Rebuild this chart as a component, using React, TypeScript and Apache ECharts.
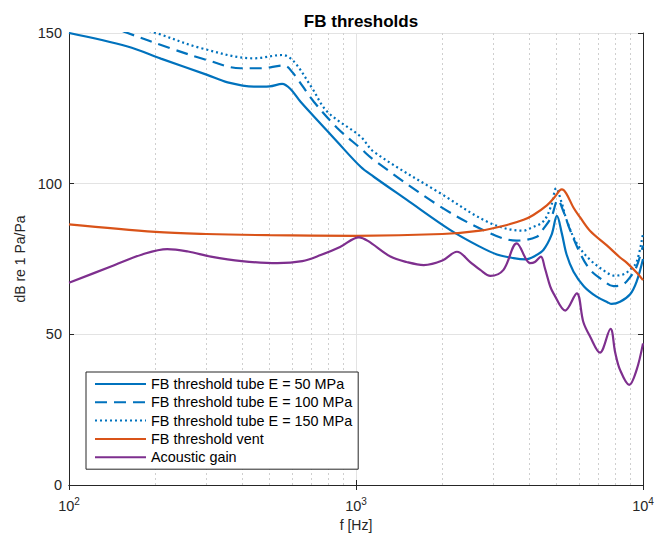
import React, { useEffect, useRef } from "react";
import * as echarts from "echarts";

// ---- data (frequency in Hz, level in dB re 1 Pa/Pa) ----
const fTube50 = [100, 160, 209, 303, 357, 441, 500, 553, 590, 641, 760, 860, 1038, 1153, 1500, 2133, 2700, 3098, 3539, 3900, 4200, 4496, 4800, 5012, 5214, 5417, 5728, 6230, 6870, 7540, 7780, 8318, 9020, 9500, 10000];
const vTube50 = [150, 145.5, 141.5, 136.1, 133.6, 132.2, 132.3, 133.1, 131.5, 127.2, 119.5, 113.9, 105.6, 102.3, 94.7, 84.6, 79.1, 76.5, 75.3, 74.9, 76, 78, 83, 89.3, 83.5, 76.5, 70.8, 65.9, 62.6, 60.6, 60.1, 60.8, 63.3, 67.5, 75];

const fTube100 = [100, 160, 226, 303, 396, 465, 561, 600, 713, 860, 1038, 1153, 1968, 2938, 3631, 4266, 4496, 4800, 5050, 5284, 5572, 6040, 6546, 7233, 7889, 8500, 9020, 9500, 10000];
const vTube100 = [157, 150, 144.9, 141, 138.3, 138.3, 139.2, 137, 127.2, 118.5, 111.7, 107.9, 92.4, 83.5, 81.1, 82.4, 85, 89, 94.6, 90.7, 84.6, 76.9, 71.4, 68, 66, 66.5, 69, 72.5, 79.5];

const fTube150 = [100, 150, 201, 288, 441, 553, 608, 700, 794, 1038, 1153, 1968, 2938, 3837, 4000, 4496, 4800, 4977, 5214, 5417, 5876, 6546, 7482, 7889, 8500, 9020, 9500, 10000];
const vTube150 = [160, 153.5, 150, 145, 141.6, 142.7, 140.5, 132, 123.9, 115.6, 110.6, 96.8, 86.9, 84.4, 85, 87.5, 93, 98.5, 93.5, 88, 80.2, 74.7, 70.5, 69.5, 69.8, 71.5, 74, 83.5];

const fVent = [100, 200, 300, 500, 1000, 2000, 2710, 3357, 3837, 4150, 4624, 4900, 5214, 5400, 5728, 6040, 6546, 7482, 8318, 8770, 9500, 10000];
const vVent = [86.5, 84, 83.3, 82.9, 82.7, 83.3, 84.4, 86.3, 88, 89.6, 92.8, 95.3, 98.1, 96.8, 92, 88.8, 84.3, 79.5, 75.5, 73.8, 70.5, 68];

const fGain = [100, 140, 180, 220, 260, 312, 400, 532, 650, 753, 880, 1024, 1100, 1318, 1500, 1722, 2000, 2248, 2500, 2710, 2938, 3265, 3631, 4046, 4200, 4408, 4550, 4753, 4876, 5357, 5876, 6200, 6546, 7080, 7706, 8000, 8318, 8953, 9500, 10000];
const vGain = [67.1, 72.5, 76.5, 78.3, 77.5, 75.8, 74.3, 73.6, 74.3, 76.3, 79, 82.2, 81, 75.8, 74, 73, 74.5, 77.4, 74, 71.4, 69.4, 71.4, 80.2, 73.6, 74, 75.8, 72, 65.8, 63.6, 57.9, 63.6, 54, 49.2, 43.9, 51.8, 44, 38.2, 33.2, 38.2, 47];

const minorGridFreqs = [200, 300, 400, 500, 600, 700, 800, 900, 2000, 3000, 4000, 5000, 6000, 7000, 8000, 9000];
const yMin = 0;
const yMax = 150;
const yInterval = 50;

const seriesNames = [
  "FB threshold tube E = 50 MPa",
  "FB threshold tube E = 100 MPa",
  "FB threshold tube E = 150 MPa",
  "FB threshold vent",
  "Acoustic gain",
];

const BLUE = "#0072BD";
const RED = "#D95319";
const PURPLE = "#7E2F8E";
const TXT = "#262626";

const zip = (f: number[], v: number[]) => f.map((x, i) => [x, v[i]]);

export default function App() {
  const ref = useRef<HTMLDivElement>(null);
  useEffect(() => {
    if (!ref.current) return;
    const chart = echarts.init(ref.current, undefined, { renderer: "svg" });
    const font = "'Liberation Sans', Arial, Helvetica, sans-serif";
    const lw = 2.2;
    const mk = (name: string, data: number[][], color: string, type: any, extra: any = {}) => ({
      name,
      type: "line",
      data,
      xAxisIndex: 0,
      yAxisIndex: 0,
      symbol: "none",
      showSymbol: false,
      smooth: 0.35,
      clip: true,
      lineStyle: { color, width: lw, type, cap: "butt" },
      itemStyle: { color },
      emphasis: { disabled: true },
      ...extra,
    });
    const option: any = {
      animation: false,
      backgroundColor: "#ffffff",
      textStyle: { fontFamily: font },
      title: {
        text: "FB thresholds",
        left: 356,
        top: 8,
        textAlign: "center",
        textStyle: { fontSize: 17, fontWeight: "bold", color: "#000", fontFamily: font },
      },
      grid: { left: 69, right: 22, top: 33, bottom: 52, containLabel: false },
      legend: {
        orient: "vertical",
        left: 86,
        top: 372,
        itemWidth: 51,
        itemHeight: 14,
        itemGap: 4.3,
        padding: [5, 6, 5, 8],
        borderColor: TXT,
        borderWidth: 1,
        borderRadius: 0,
        backgroundColor: "#ffffff",
        itemStyle: { opacity: 0 },
        textStyle: { fontSize: 14.4, color: "#000", fontFamily: font },
        data: seriesNames,
      },
      xAxis: [
        {
          type: "log",
          logBase: 10,
          min: 100,
          max: 10000,
          position: "bottom",
          axisLine: { show: true, lineStyle: { color: TXT, width: 1 } },
          axisTick: { show: true, inside: true, length: 5, lineStyle: { color: TXT } },
          axisLabel: {
            margin: 11,
            color: TXT,
            formatter: (v: number) => `{b|10}{s|${Math.round(Math.log10(v))}}`,
            rich: {
              b: { fontSize: 14.5, color: TXT, fontFamily: font },
              s: { fontSize: 10, color: TXT, fontFamily: font, verticalAlign: "bottom", padding: [0, 0, 9, 0] },
            },
            showMinLabel: true,
            showMaxLabel: true,
          },
          splitLine: { show: true, lineStyle: { color: "#e3e3e3", width: 1 } },
          name: "f [Hz]",
          nameLocation: "middle",
          nameGap: 31,
          nameTextStyle: { fontSize: 14, color: TXT, fontFamily: font },
        },
        {
          type: "log",
          logBase: 10,
          min: 100,
          max: 10000,
          position: "top",
          axisLine: { show: true, lineStyle: { color: TXT, width: 1 } },
          axisTick: { show: true, inside: true, length: 5, lineStyle: { color: TXT } },
          axisLabel: { show: false },
          splitLine: { show: false },
        },
      ],
      yAxis: [
        {
          type: "value",
          min: yMin,
          max: yMax,
          interval: yInterval,
          position: "left",
          axisLine: { show: true, lineStyle: { color: TXT, width: 1 } },
          axisTick: { show: true, inside: true, length: 5, lineStyle: { color: TXT } },
          axisLabel: { margin: 7, fontSize: 14.5, color: TXT, fontFamily: font },
          splitLine: { show: true, lineStyle: { color: "#e3e3e3", width: 1 } },
          name: "dB re 1 Pa/Pa",
          nameLocation: "middle",
          nameGap: 40,
          nameRotate: 90,
          nameTextStyle: { fontSize: 14, color: TXT, fontFamily: font },
        },
        {
          type: "value",
          min: yMin,
          max: yMax,
          interval: yInterval,
          position: "right",
          axisLine: { show: true, lineStyle: { color: TXT, width: 1 } },
          axisTick: { show: true, inside: true, length: 5, lineStyle: { color: TXT } },
          axisLabel: { show: false },
          splitLine: { show: false },
        },
      ],
      series: [
        mk(seriesNames[0], zip(fTube50, vTube50), BLUE, "solid", {
          markLine: {
            silent: true,
            symbol: "none",
            z: 1,
            animation: false,
            label: { show: false },
            lineStyle: { type: [2, 3], color: "#cfcfcf", width: 1 },
            emphasis: { disabled: true },
            data: minorGridFreqs.map((f) => ({ xAxis: f })),
          },
        }),
        mk(seriesNames[1], zip(fTube100, vTube100), BLUE, [12, 7]),
        mk(seriesNames[2], zip(fTube150, vTube150), BLUE, [2, 3]),
        mk(seriesNames[3], zip(fVent, vVent), RED, "solid"),
        mk(seriesNames[4], zip(fGain, vGain), PURPLE, "solid"),
      ],
    };
    chart.setOption(option);
    return () => chart.dispose();
  }, []);
  return <div ref={ref} style={{ width: 665, height: 537, position: "absolute", left: 0, top: 0 }} />;
}
